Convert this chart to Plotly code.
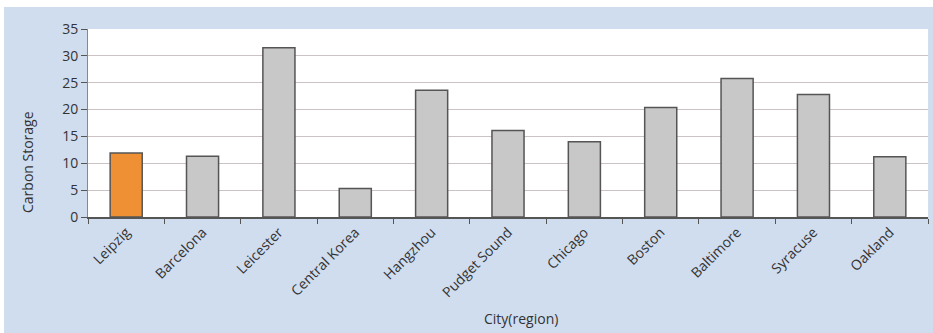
import plotly.graph_objects as go

cities = ["Leipzig", "Barcelona", "Leicester", "Central Korea", "Hangzhou", "Pudget Sound",
          "Chicago", "Boston", "Baltimore", "Syracuse", "Oakland"]
carbon_storage = [11.9, 11.3, 31.5, 5.3, 23.6, 16.1, 14.0, 20.4, 25.8, 22.8, 11.2]
bar_colors = ["#ef9035"] + ["#c8c8c8"] * 10

W, H = 933, 333
L, R, T, B = 88, 5, 29, 116
pw, ph = W - L - R, H - T - B


def px_x(x):
    return (x - L) / pw


def px_y(y):
    return (H - B - y) / ph


fig = go.Figure(go.Bar(
    x=cities, y=carbon_storage,
    marker=dict(color=bar_colors, line=dict(color="#555555", width=1.5)),
))

fig.update_layout(
    width=W, height=H,
    margin=dict(l=L, r=R, t=T, b=B),
    paper_bgcolor="#d0ddef",
    plot_bgcolor="#ffffff",
    bargap=0.58,
    showlegend=False,
    font=dict(family="Open Sans, sans-serif", size=13, color="#333333"),
    xaxis=dict(
        automargin=False,
        tickangle=-45, ticks="outside", tickson="boundaries", ticklen=5,
        tickcolor="#555555", showline=True, linecolor="#555555", linewidth=1.5,
        showgrid=False, tickfont=dict(size=14),
    ),
    yaxis=dict(
        automargin=False,
        range=[0, 35], dtick=5, ticks="outside", ticklen=6, tickcolor="#555555",
        showline=True, linecolor="#888888", linewidth=1,
        gridcolor="#cbc3c3", gridwidth=1.2, zeroline=False, tickfont=dict(size=14),
    ),
    annotations=[
        dict(text="City(region)", xref="paper", yref="paper", x=px_x(521), y=px_y(318),
             showarrow=False, font=dict(size=14), xanchor="center", yanchor="middle"),
        dict(text="Carbon Storage", xref="paper", yref="paper", x=px_x(27), y=px_y(162),
             showarrow=False, font=dict(size=14), textangle=-90,
             xanchor="center", yanchor="middle"),
    ],
    shapes=[
        dict(type="rect", xref="paper", yref="paper", layer="above",
             x0=px_x(0), x1=px_x(W), y0=px_y(7), y1=px_y(0),
             fillcolor="#ffffff", line=dict(width=0)),
        dict(type="rect", xref="paper", yref="paper", layer="above",
             x0=px_x(0), x1=px_x(4), y0=px_y(H), y1=px_y(0),
             fillcolor="#ffffff", line=dict(width=0)),
    ],
)

# the page body has an 8px margin by default; drop it so the chart fills the window
fig.write_html("out.html", config={"displayModeBar": False},
               post_script="document.body.style.margin = '0';")
